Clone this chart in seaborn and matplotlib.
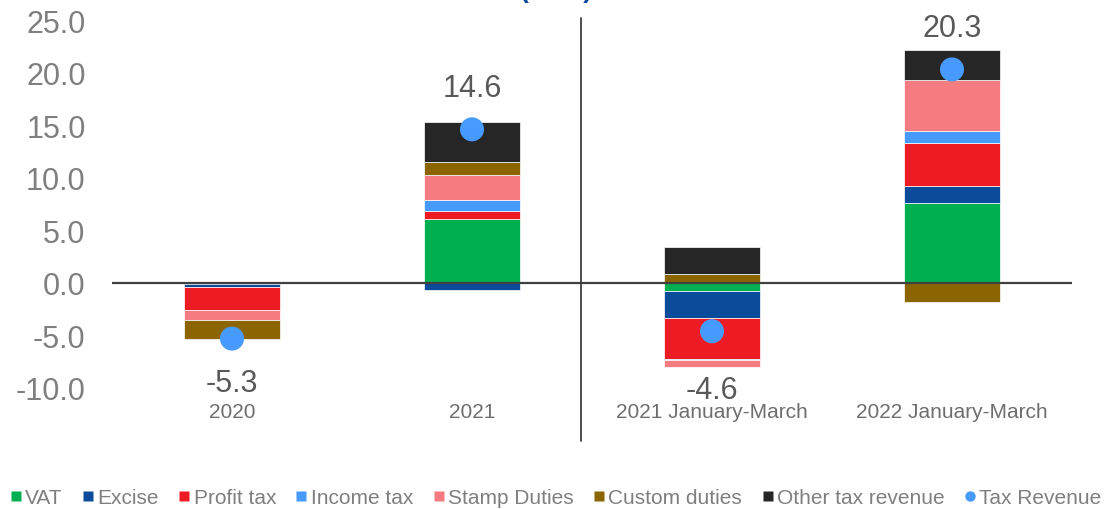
import numpy as np
import matplotlib
matplotlib.use("Agg")
import matplotlib.pyplot as plt
from matplotlib.lines import Line2D
from matplotlib.ticker import FuncFormatter
from matplotlib.transforms import blended_transform_factory
import seaborn as sns

# Contributions to tax revenue growth, percentage points
categories = ["2020", "2021", "2021 January-March", "2022 January-March"]
vat = [-0.1, 6.1, -0.8, 7.6]
excise = [-0.3, -0.7, -2.5, 1.6]
profit_tax = [-2.2, 0.7, -3.9, 4.1]
income_tax = [0.0, 1.1, -0.1, 1.1]
stamp_duties = [-0.9, 2.4, -0.7, 4.9]
custom_duties = [-1.8, 1.2, 0.8, -1.8]
other_tax = [0.0, 3.8, 2.6, 2.8]
tax_revenue = [-5.3, 14.6, -4.6, 20.3]

series_names = ["VAT", "Excise", "Profit tax", "Income tax", "Stamp Duties",
                "Custom duties", "Other tax revenue"]
series_values = [vat, excise, profit_tax, income_tax, stamp_duties,
                 custom_duties, other_tax]
series_colors = ["#00B050", "#0A4C9A", "#ED1C24", "#479BFF", "#F47C80",
                 "#8B6500", "#262626"]
dot_color = "#479BFF"

sns.set_theme(style="white")
plt.rcParams["font.family"] = ["Liberation Sans", "DejaVu Sans"]
plt.rcParams["axes.unicode_minus"] = False

fig = plt.figure(figsize=(11.12, 5.10), dpi=100)
ax = fig.add_axes([112 / 1112, 121 / 510, 960 / 1112, 368 / 510])

# stacked bars: positives grow upward from zero, negatives downward
pos_base = np.zeros(len(categories))
neg_base = np.zeros(len(categories))
for name, vals, color in zip(series_names, series_values, series_colors):
    v = np.asarray(vals, dtype=float)
    bottom = np.where(v >= 0, pos_base, neg_base)
    sns.barplot(x=categories, y=v, bottom=bottom, color=color, saturation=1,
                width=0.4, errorbar=None, ax=ax, edgecolor="#ffffff",
                linewidth=0.5, zorder=2)
    pos_base += np.where(v > 0, v, 0)
    neg_base += np.where(v < 0, v, 0)

ax.axhline(0, color="#404040", lw=1.6, zorder=3)

sns.scatterplot(x=categories, y=tax_revenue, color=dot_color, s=300,
                edgecolor="none", ax=ax, zorder=5, legend=False)

label_offsets = [-32, 30, -42, 30]
for i, (val, off) in enumerate(zip(tax_revenue, label_offsets)):
    ax.annotate(f"{val:.1f}", xy=(i, val), xytext=(0, off),
                textcoords="offset points", ha="center", va="center",
                fontsize=22, color="#595959")

ax.set_xlim(-0.5, 3.5)
ax.set_ylim(-10, 25)
ax.set_yticks(np.arange(-10, 25.1, 5))
ax.yaxis.set_major_formatter(FuncFormatter(lambda y, _: f"{y:.1f}"))
ax.tick_params(axis="y", length=0, pad=19, labelsize=22, labelcolor="#7F7F7F")
ax.tick_params(axis="x", length=0, pad=10, labelsize=15, labelcolor="#6E6E6E")
ax.set_xlabel("")
ax.set_ylabel("")
ax.grid(False)
for sp in ax.spines.values():
    sp.set_visible(False)

# separator between annual and quarterly comparisons
trans = blended_transform_factory(ax.transData, ax.transAxes)
ax.plot([1.455, 1.455], [1.005, -0.143], transform=trans, clip_on=False,
        color="#404040", lw=1.3, zorder=4)

fig.text(0.5, 1.0033, "(in %)", ha="center", va="baseline", fontsize=19,
         fontweight="bold", color="#0B4A9E")

handles = [Line2D([], [], marker="s", linestyle="none", markersize=7.5,
                  markerfacecolor=c, markeredgecolor="none")
           for c in series_colors]
handles.append(Line2D([], [], marker="o", linestyle="none", markersize=7.5,
                      markerfacecolor=dot_color, markeredgecolor="none"))
labels = series_names + ["Tax Revenue"]
fig.legend(handles, labels, loc="center", bbox_to_anchor=(0.5, 0.022), ncol=8,
           frameon=False, fontsize=15, handlelength=0.5, handletextpad=0.2,
           columnspacing=0.97, labelcolor="#7F7F7F", borderaxespad=0)

fig.savefig("out.png", dpi=100)
